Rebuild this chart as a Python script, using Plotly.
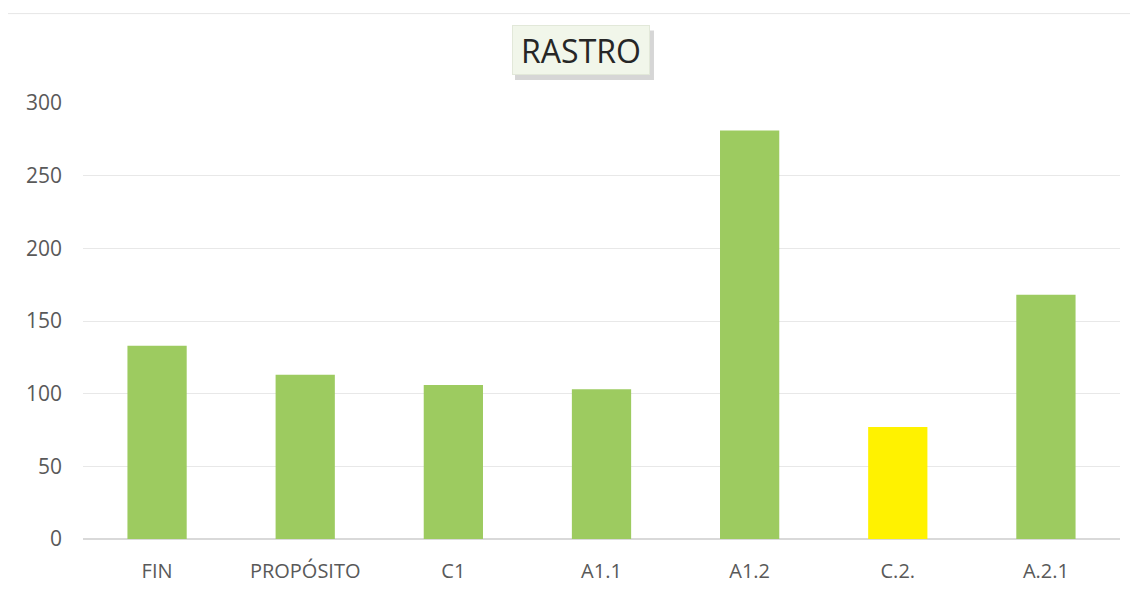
import plotly.graph_objects as go

categories = ["FIN", "PROPÓSITO", "C1", "A1.1", "A1.2", "C.2.", "A.2.1"]
values = [133, 113, 106, 103, 281, 77, 168]
colors = ["#9DCB60", "#9DCB60", "#9DCB60", "#9DCB60", "#9DCB60", "#FFF200", "#9DCB60"]
y_ticks = [0, 50, 100, 150, 200, 250, 300]

fig = go.Figure(go.Bar(x=categories, y=values, marker=dict(color=colors, line=dict(width=0)),
                       width=0.40))

fig.update_layout(
    width=1138, height=600,
    margin=dict(l=75, r=26, t=95, b=69),
    paper_bgcolor="white", plot_bgcolor="white",
    font=dict(family="Open Sans, Liberation Sans, sans-serif", color="#595959", size=18),
    showlegend=False,
    xaxis=dict(showgrid=False, showline=False, ticks="", tickfont=dict(size=20),
               ticklabelstandoff=18),
    yaxis=dict(range=[0, 300], tickvals=y_ticks, showgrid=True, gridcolor="#E8E8E8",
               gridwidth=1, zeroline=True, zerolinecolor="#D9D9D9", ticks="",
               tickfont=dict(size=21), ticklabelstandoff=20),
    shapes=[
        dict(type="rect", xref="paper", yref="paper", x0=-0.074, x1=1.012, y0=-0.145, y1=1.205,
             line=dict(color="#E6E6E6", width=1), fillcolor="rgba(0,0,0,0)", layer="below"),
        dict(type="rect", xref="paper", yref="paper", x0=0.4166, x1=0.5506, y0=1.053, y1=1.166,
             line=dict(width=0), fillcolor="rgba(120,120,120,0.30)", layer="below"),
    ],
    annotations=[dict(text="RASTRO", xref="paper", yref="paper", x=0.480, y=1.121,
                      xanchor="center", yanchor="middle", width=130, height=42,
                      showarrow=False, font=dict(size=32, color="#262626"),
                      bgcolor="#F1F6EA", bordercolor="#E2E8D9", borderwidth=1, borderpad=3)],
)

fig.write_html("out.html")
